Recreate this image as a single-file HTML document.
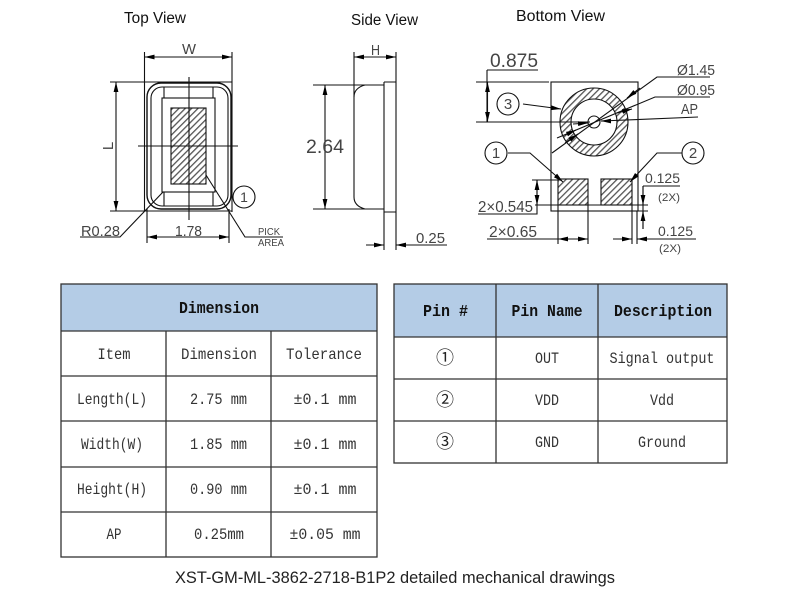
<!DOCTYPE html>
<html><head><meta charset="utf-8"><style>
html,body{margin:0;padding:0;background:#fff}
svg{display:block;filter:blur(.3px)}
.l{fill:none;stroke:#111;stroke-width:1.1}
.c{font-family:"Liberation Sans",sans-serif;fill:#444}
.s{font-family:"Liberation Sans",sans-serif;fill:#111;font-size:15.5px}
.t{font-family:"Liberation Mono","Noto Sans CJK SC",monospace;fill:#333;font-size:16px;text-anchor:middle}
.h{font-family:"Liberation Mono",monospace;fill:#111;font-size:17px;font-weight:bold;text-anchor:middle}
.n{font-family:"Noto Sans CJK SC",sans-serif;fill:#222;font-size:18px;text-anchor:middle}
.g{stroke:#333;stroke-width:1.3;fill:none}
</style></head><body>
<svg width="790" height="594" viewBox="0 0 790 594" xmlns="http://www.w3.org/2000/svg">
<defs>
<marker id="a" markerWidth="10" markerHeight="6" refX="10" refY="3" orient="auto-start-reverse" markerUnits="userSpaceOnUse"><path d="M0 .6 L10 3 L0 5.4z" fill="#000"/></marker>
<pattern id="h" width="4.500" height="4.500" patternUnits="userSpaceOnUse" patternTransform="rotate(-45)"><rect width="4.500" height="4.500" fill="#fff"/><rect width="4.500" height="1.3" fill="#555"/></pattern>
</defs>

<text class="s" x="124" y="23" textLength="62" lengthAdjust="spacingAndGlyphs">Top View</text>
<text class="s" x="351" y="25" textLength="67" lengthAdjust="spacingAndGlyphs">Side View</text>
<text class="s" x="516" y="21" textLength="89" lengthAdjust="spacingAndGlyphs">Bottom View</text>

<!-- Top view -->
<g class="l">
<path d="M144.5 52V211M232 52V212"/>
<path d="M144.5 57H232" marker-start="url(#a)" marker-end="url(#a)"/>
<path d="M110 82H232M110 211H232"/>
<path d="M116 82V211" marker-start="url(#a)" marker-end="url(#a)"/>
<rect x="147" y="83" width="84" height="126" rx="14" stroke-width="1.4"/>
<rect x="151" y="87" width="77" height="119" rx="11"/>
<rect x="162" y="98" width="53" height="94"/>
<path d="M164 87V98M213 87V98M164 192V206M213 192V206"/>
<rect x="171" y="108" width="35" height="76" fill="url(#h)"/>
<path d="M189 77V220M138 146H238"/>
<path d="M147 209V243M229 209V243"/>
<path d="M147 237H229" marker-start="url(#a)" marker-end="url(#a)"/>
<path d="M80 237H120L163 192"/>
<path d="M206 175L245 237H283"/>
<circle cx="244" cy="197" r="11"/>
</g>
<g class="c">
<text x="182" y="54" font-size="15" textLength="14" lengthAdjust="spacingAndGlyphs">W</text>
<text x="113" y="146" font-size="15" transform="rotate(-90 113 146)" text-anchor="middle">L</text>
<text x="81" y="236" font-size="15" textLength="39" lengthAdjust="spacingAndGlyphs">R0.28</text>
<text x="175" y="236" font-size="15" textLength="27" lengthAdjust="spacingAndGlyphs">1.78</text>
<text x="258" y="235" font-size="10.500" textLength="22" lengthAdjust="spacingAndGlyphs">PICK</text>
<text x="258" y="246" font-size="10.500" textLength="26" lengthAdjust="spacingAndGlyphs">AREA</text>
<text x="244" y="202" font-size="14" text-anchor="middle">1</text>
</g>

<!-- Side view -->
<g class="l">
<path d="M354 52V97M396 52V250M384 82V250"/>
<path d="M354 57H396" marker-start="url(#a)" marker-end="url(#a)"/>
<path d="M313 85H384M313 209H384"/>
<path d="M325 85V209" marker-start="url(#a)" marker-end="url(#a)"/>
<path d="M384 82H396M384 212H396"/>
<path d="M365 85Q354 88 354 97V197Q354 206 365 209"/>
<path d="M366 245H384" marker-end="url(#a)"/>
<path d="M447 245H396" marker-end="url(#a)"/>
</g>
<g class="c">
<text x="371" y="55" font-size="15" textLength="9" lengthAdjust="spacingAndGlyphs">H</text>
<text x="306" y="153" font-size="19" textLength="38" lengthAdjust="spacingAndGlyphs">2.64</text>
<text x="416" y="243" font-size="15" textLength="29" lengthAdjust="spacingAndGlyphs">0.25</text>
</g>

<!-- Bottom view -->
<g class="l">
<rect x="551" y="82" width="87" height="129"/>
<circle cx="594" cy="122" r="34" fill="url(#h)"/>
<circle cx="594" cy="122" r="23" fill="#fff"/>
<circle cx="594" cy="122" r="6" fill="#fff"/>
<rect x="558" y="179" width="30" height="26" fill="url(#h)"/>
<rect x="601" y="179" width="31" height="26" fill="url(#h)"/>
<path d="M487 70H538M487 70V122"/>
<path d="M476 82H549M476 122H590"/>
<path d="M487.500 82V122" marker-start="url(#a)" marker-end="url(#a)"/>
<circle cx="508" cy="104" r="11"/>
<path d="M523 104L561 109" marker-end="url(#a)"/>
<circle cx="496" cy="153" r="11"/>
<path d="M508 153H530L563 182" marker-end="url(#a)"/>
<circle cx="693" cy="153" r="11"/>
<path d="M682 153H657L630 182" marker-end="url(#a)"/>
<path d="M710 77H657L552 153"/>
<path d="M640 88L627 98" marker-end="url(#a)"/>
<path d="M565 143L578 134" marker-end="url(#a)"/>
<path d="M710 97H655L557 138"/>
<path d="M632 109L617 113" marker-start="url(#a)"/>
<path d="M565 135L576 130" marker-end="url(#a)"/>
<path d="M698 117L601 121"/>
<path d="M608 121L601 121" marker-end="url(#a)"/>
<path d="M573 124L588 123" marker-end="url(#a)"/>
<path d="M643 186H680M643 186V229"/>
<path d="M588 205H648M558 205H535M551 211H648M532 180H558"/>
<path d="M643 186V205" marker-end="url(#a)"/>
<path d="M643 229V211" marker-end="url(#a)"/>
<path d="M478 214H537V180"/>
<path d="M537 180V205" marker-start="url(#a)" marker-end="url(#a)"/>
<path d="M558 205V244M588 205V244M632 205V244M637 211V244"/>
<path d="M487 239H588"/>
<path d="M558 239H588" marker-start="url(#a)" marker-end="url(#a)"/>
<path d="M613 239H632" marker-end="url(#a)"/>
<path d="M696 239H637" marker-end="url(#a)"/>
</g>
<g class="c">
<text x="490" y="67" font-size="19" textLength="48" lengthAdjust="spacingAndGlyphs">0.875</text>
<text x="508" y="109" font-size="15" text-anchor="middle">3</text>
<text x="496" y="158" font-size="15" text-anchor="middle">1</text>
<text x="693" y="158" font-size="15" text-anchor="middle">2</text>
<text x="677" y="75" font-size="14.500" textLength="38" lengthAdjust="spacingAndGlyphs">Ø1.45</text>
<text x="677" y="95" font-size="14.500" textLength="38" lengthAdjust="spacingAndGlyphs">Ø0.95</text>
<text x="681" y="114" font-size="15" textLength="17" lengthAdjust="spacingAndGlyphs">AP</text>
<text x="645" y="183" font-size="14" textLength="35" lengthAdjust="spacingAndGlyphs">0.125</text>
<text x="658" y="201" font-size="11" textLength="22" lengthAdjust="spacingAndGlyphs">(2X)</text>
<text x="478" y="212" font-size="15.500" textLength="55" lengthAdjust="spacingAndGlyphs">2×0.545</text>
<text x="489" y="237" font-size="15.500" textLength="48" lengthAdjust="spacingAndGlyphs">2×0.65</text>
<text x="658" y="236" font-size="14" textLength="35" lengthAdjust="spacingAndGlyphs">0.125</text>
<text x="659" y="252" font-size="11" textLength="22" lengthAdjust="spacingAndGlyphs">(2X)</text>
</g>

<!-- Left table -->
<rect x="61" y="284" width="316" height="47" fill="#b4cce6"/>
<g class="g">
<rect x="61" y="284" width="316" height="273"/>
<path d="M61 331H377M61 376H377M61 421H377M61 467H377M61 512H377M166 331V557M271 331V557"/>
</g>
<text class="h" x="219" y="313" textLength="80" lengthAdjust="spacingAndGlyphs">Dimension</text>
<text class="t" x="114" y="359" textLength="33" lengthAdjust="spacingAndGlyphs">Item</text><text class="t" x="219" y="359" textLength="76" lengthAdjust="spacingAndGlyphs">Dimension</text><text class="t" x="324" y="359" textLength="76" lengthAdjust="spacingAndGlyphs">Tolerance</text>
<text class="t" x="112" y="404" textLength="70" lengthAdjust="spacingAndGlyphs">Length(L)</text><text class="t" x="218.500" y="404" textLength="57" lengthAdjust="spacingAndGlyphs">2.75 mm</text><text class="t" x="325" y="404" textLength="63" lengthAdjust="spacingAndGlyphs">±0.1 mm</text>
<text class="t" x="112" y="449" textLength="62" lengthAdjust="spacingAndGlyphs">Width(W)</text><text class="t" x="218.500" y="449" textLength="57" lengthAdjust="spacingAndGlyphs">1.85 mm</text><text class="t" x="325" y="449" textLength="63" lengthAdjust="spacingAndGlyphs">±0.1 mm</text>
<text class="t" x="112" y="494" textLength="70" lengthAdjust="spacingAndGlyphs">Height(H)</text><text class="t" x="218.500" y="494" textLength="57" lengthAdjust="spacingAndGlyphs">0.90 mm</text><text class="t" x="325" y="494" textLength="63" lengthAdjust="spacingAndGlyphs">±0.1 mm</text>
<text class="t" x="114" y="539" textLength="15" lengthAdjust="spacingAndGlyphs">AP</text><text class="t" x="219" y="539" textLength="50" lengthAdjust="spacingAndGlyphs">0.25mm</text><text class="t" x="325" y="539" textLength="71" lengthAdjust="spacingAndGlyphs">±0.05 mm</text>

<!-- Right table -->
<rect x="394" y="284" width="333" height="53" fill="#b4cce6"/>
<g class="g">
<rect x="394" y="284" width="333" height="179"/>
<path d="M394 337H727M394 379H727M394 421H727M496 284V463M598 284V463"/>
</g>
<text class="h" x="445.500" y="316" textLength="45" lengthAdjust="spacingAndGlyphs">Pin #</text><text class="h" x="547" y="316" textLength="71" lengthAdjust="spacingAndGlyphs">Pin Name</text><text class="h" x="663" y="316" textLength="98" lengthAdjust="spacingAndGlyphs">Description</text>
<text class="n" x="445" y="364">①</text><text class="t" x="547" y="363" textLength="24" lengthAdjust="spacingAndGlyphs">OUT</text><text class="t" x="662" y="363" textLength="105" lengthAdjust="spacingAndGlyphs">Signal output</text>
<text class="n" x="445" y="406">②</text><text class="t" x="547" y="405" textLength="24" lengthAdjust="spacingAndGlyphs">VDD</text><text class="t" x="662" y="405" textLength="24" lengthAdjust="spacingAndGlyphs">Vdd</text>
<text class="n" x="445" y="448">③</text><text class="t" x="547" y="447" textLength="24" lengthAdjust="spacingAndGlyphs">GND</text><text class="t" x="662" y="447" textLength="48" lengthAdjust="spacingAndGlyphs">Ground</text>

<text class="c" x="175" y="583" font-size="16.500" textLength="440" lengthAdjust="spacingAndGlyphs" style="fill:#222">XST-GM-ML-3862-2718-B1P2 detailed mechanical drawings</text>
</svg>
</body></html>
